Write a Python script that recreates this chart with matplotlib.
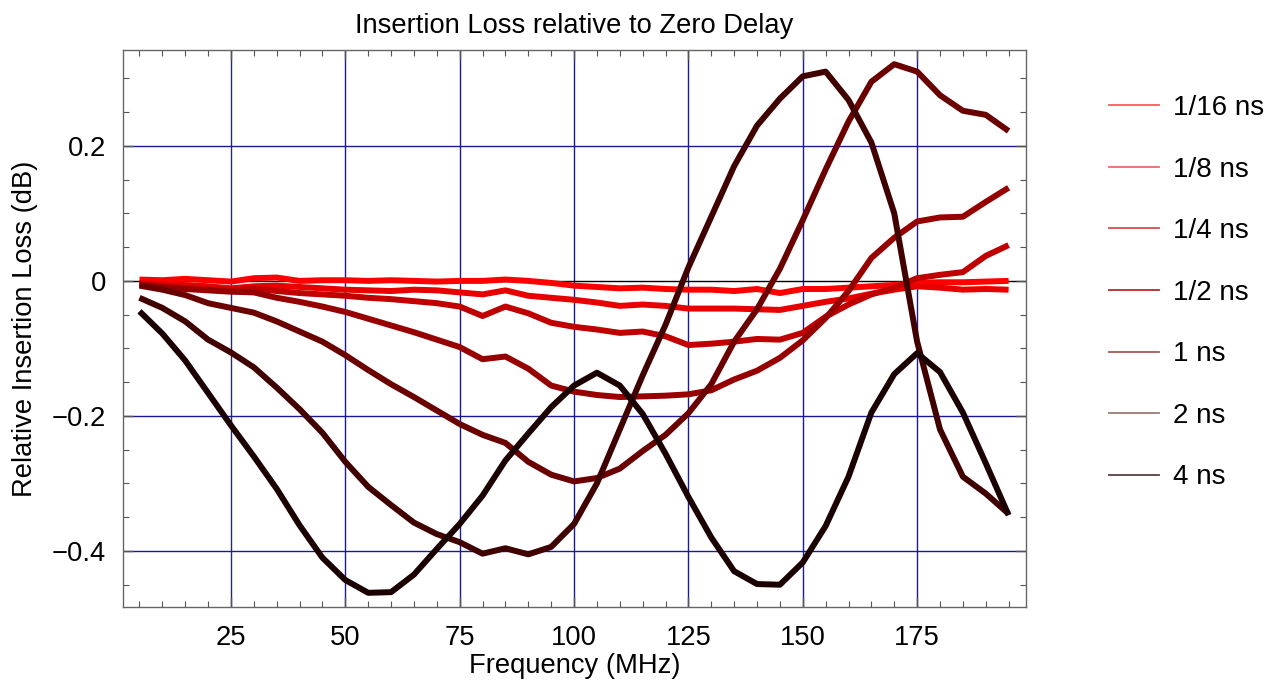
import matplotlib
matplotlib.use("Agg")
import matplotlib.pyplot as plt
from matplotlib.lines import Line2D
from matplotlib.ticker import MultipleLocator, FuncFormatter

plt.rcParams['font.family'] = ['Liberation Sans', 'DejaVu Sans']

freq = [5, 10, 15, 20, 25, 30, 35, 40, 45, 50, 55, 60, 65, 70, 75, 80, 85, 90, 95, 100,
        105, 110, 115, 120, 125, 130, 135, 140, 145, 150, 155, 160, 165, 170, 175, 180,
        185, 190, 195]

labels = ["1/16 ns", "1/8 ns", "1/4 ns", "1/2 ns", "1 ns", "2 ns", "4 ns"]

d_1_16 = [0.002, 0.001, 0.003, 0.001, -0.001, 0.004, 0.005, 0.000, 0.001, 0.001, 0.000, 0.001,
          0.000, -0.001, 0.000, 0.000, 0.002, 0.000, -0.003, -0.007, -0.009, -0.011, -0.010,
          -0.012, -0.013, -0.013, -0.015, -0.012, -0.018, -0.012, -0.012, -0.010, -0.008,
          -0.006, -0.003, -0.002, -0.002, -0.001, 0.000]
d_1_8 = [-0.003, -0.005, -0.006, -0.008, -0.011, -0.008, -0.007, -0.009, -0.011, -0.013, -0.014,
         -0.015, -0.013, -0.014, -0.017, -0.020, -0.014, -0.022, -0.025, -0.028, -0.032, -0.037,
         -0.035, -0.037, -0.041, -0.041, -0.041, -0.042, -0.043, -0.037, -0.031, -0.026, -0.019,
         -0.013, -0.008, -0.010, -0.013, -0.012, -0.013]
d_1_4 = [-0.005, -0.008, -0.010, -0.012, -0.014, -0.011, -0.015, -0.018, -0.020, -0.022, -0.025,
         -0.027, -0.030, -0.033, -0.038, -0.052, -0.038, -0.048, -0.062, -0.068, -0.072, -0.077,
         -0.075, -0.082, -0.095, -0.093, -0.090, -0.086, -0.087, -0.077, -0.053, -0.035, -0.020,
         -0.010, 0.004, 0.009, 0.013, 0.037, 0.053]
d_1_2 = [-0.005, -0.009, -0.012, -0.014, -0.016, -0.017, -0.025, -0.031, -0.038, -0.046, -0.056,
         -0.066, -0.076, -0.087, -0.098, -0.116, -0.112, -0.130, -0.155, -0.164, -0.169, -0.172,
         -0.171, -0.170, -0.168, -0.162, -0.146, -0.133, -0.114, -0.088, -0.055, -0.015, 0.034,
         0.064, 0.088, 0.094, 0.095, 0.117, 0.138]
d_1 = [-0.007, -0.013, -0.021, -0.033, -0.040, -0.047, -0.060, -0.075, -0.090, -0.110, -0.132,
       -0.153, -0.172, -0.192, -0.212, -0.228, -0.240, -0.268, -0.287, -0.297, -0.292, -0.278,
       -0.252, -0.228, -0.196, -0.153, -0.090, -0.042, 0.018, 0.090, 0.165, 0.236, 0.295,
       0.321, 0.310, 0.275, 0.252, 0.246, 0.222]
d_2 = [-0.025, -0.040, -0.060, -0.087, -0.106, -0.128, -0.158, -0.190, -0.225, -0.268, -0.305,
       -0.332, -0.358, -0.375, -0.387, -0.404, -0.396, -0.405, -0.394, -0.360, -0.300, -0.220,
       -0.140, -0.065, 0.020, 0.095, 0.170, 0.230, 0.270, 0.303, 0.310, 0.268, 0.205, 0.100,
       -0.090, -0.220, -0.290, -0.315, -0.345]
d_4 = [-0.045, -0.078, -0.118, -0.166, -0.214, -0.260, -0.308, -0.362, -0.410, -0.443, -0.462,
       -0.461, -0.435, -0.397, -0.360, -0.318, -0.266, -0.226, -0.187, -0.155, -0.136, -0.155,
       -0.197, -0.256, -0.320, -0.380, -0.430, -0.449, -0.450, -0.417, -0.363, -0.290, -0.195,
       -0.138, -0.107, -0.135, -0.195, -0.270, -0.347]

series = [d_1_16, d_1_8, d_1_4, d_1_2, d_1, d_2, d_4]
curve_colors = ["#ff0000", "#e80000", "#c00000", "#960000", "#6a0000", "#400000", "#1a0000"]
legend_colors = ["#ff5a5a", "#f06a6a", "#d84c4c", "#b32a2a", "#a05a55", "#9a7b75", "#5c4040"]

FS = 19.7

fig = plt.figure(figsize=(12.75, 6.87), dpi=100)
ax = fig.add_axes([123 / 1275, 1 - 607 / 687, (1026 - 123) / 1275, (607 - 50) / 687])

ax.set_xlim(1.4, 198.8)
ax.set_ylim(-0.483, 0.342)

# grid lines
for gx in [25, 50, 75, 100, 125, 150, 175]:
    ax.axvline(gx, color="#2a2a6a" if gx == 25 else "#1a1a99", lw=1.0, zorder=1)
for gy in [-0.4, -0.2, 0.2]:
    ax.axhline(gy, color="#1a1a99", lw=1.0, zorder=1)
ax.axhline(0, color="black", lw=1.0, zorder=1)

for vals, col in zip(series, curve_colors):
    ax.plot(freq, vals, color=col, lw=4.3, solid_capstyle="butt", solid_joinstyle="round", zorder=2)

ax.xaxis.set_major_locator(MultipleLocator(25))
ax.xaxis.set_minor_locator(MultipleLocator(5))
ax.yaxis.set_major_locator(MultipleLocator(0.2))
ax.yaxis.set_minor_locator(MultipleLocator(0.05))
ax.yaxis.set_major_formatter(FuncFormatter(lambda v, p: "0" if abs(v) < 1e-9 else ("%.1f" % v).replace("-", "\u2212")))

ax.tick_params(which="both", direction="in", top=True, right=True, colors="#555555",
               labelcolor="black", labelsize=FS)
ax.tick_params(which="major", length=7, width=1.0)
ax.tick_params(which="minor", length=4, width=0.8)
ax.tick_params(axis="x", which="major", pad=13.3)
ax.tick_params(axis="y", which="major", pad=12.2)
for s in ax.spines.values():
    s.set_color("#666666")
    s.set_linewidth(1.0)

ax.set_xlabel("Frequency (MHz)", fontsize=FS, labelpad=1)
ax.set_ylabel("Relative Insertion Loss (dB)", fontsize=FS, labelpad=10)
ax.set_title("Insertion Loss relative to Zero Delay", fontsize=FS, pad=12)

handles = [Line2D([0], [0], color=c, lw=1.3) for c in legend_colors]
fig.legend(handles, labels, loc="upper left", bbox_to_anchor=(1098 / 1275, 1 - 84 / 687),
           frameon=False, fontsize=20, handlelength=1.8, handletextpad=0.5,
           labelspacing=1.28, borderaxespad=0)

fig.savefig("out.png", dpi=100)
